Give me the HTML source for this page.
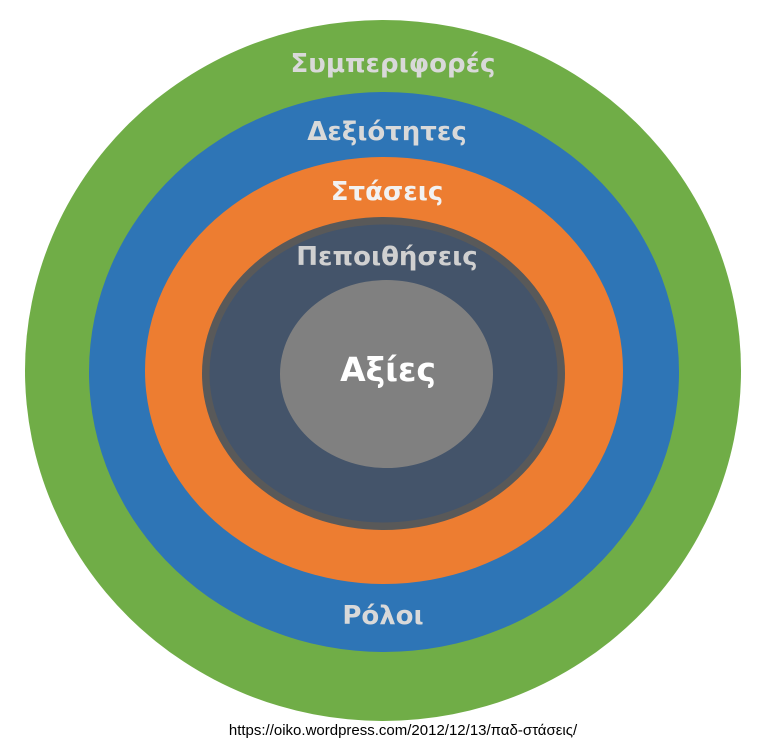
<!DOCTYPE html>
<html><head><meta charset="utf-8"><style>
html,body{margin:0;padding:0;background:#fff;width:766px;height:744px;overflow:hidden}
svg text{font-family:"DejaVu Sans","Liberation Sans",sans-serif;font-weight:bold}
</style></head><body>
<svg width="766" height="744" viewBox="0 0 766 744" xmlns="http://www.w3.org/2000/svg">
<ellipse cx="383" cy="370.5" rx="358" ry="350.5" fill="#70ad47"/>
<ellipse cx="384" cy="372" rx="295" ry="280" fill="#2e75b6"/>
<ellipse cx="384" cy="370.5" rx="239" ry="213.5" fill="#ed7d31"/>
<ellipse cx="383.5" cy="373.5" rx="181.5" ry="156.5" fill="#595959"/>
<ellipse cx="383.5" cy="373.5" rx="174" ry="149" fill="#44546a"/>
<ellipse cx="386.5" cy="374" rx="106.5" ry="94" fill="#808080"/>
<g text-anchor="middle" font-size="26">
<text x="393" y="72" fill="#d9d9d9">Συμπεριφορές</text>
<text x="387" y="140" fill="#d9d9d9">Δεξιότητες</text>
<text x="387" y="200" fill="#f2f2f2">Στάσεις</text>
<text x="387" y="265" fill="#d0d0d0">Πεποιθήσεις</text>
<text x="388" y="381" fill="#ffffff" font-size="33">Αξίες</text>
<text x="383" y="624" fill="#d9d9d9">Ρόλοι</text>
</g>
<text x="403" y="735" text-anchor="middle" font-size="15" fill="#000" style="font-family:'Liberation Sans',sans-serif;font-weight:normal">https://oiko.wordpress.com/2012/12/13/παδ-στάσεις/</text>
</svg>
</body></html>
